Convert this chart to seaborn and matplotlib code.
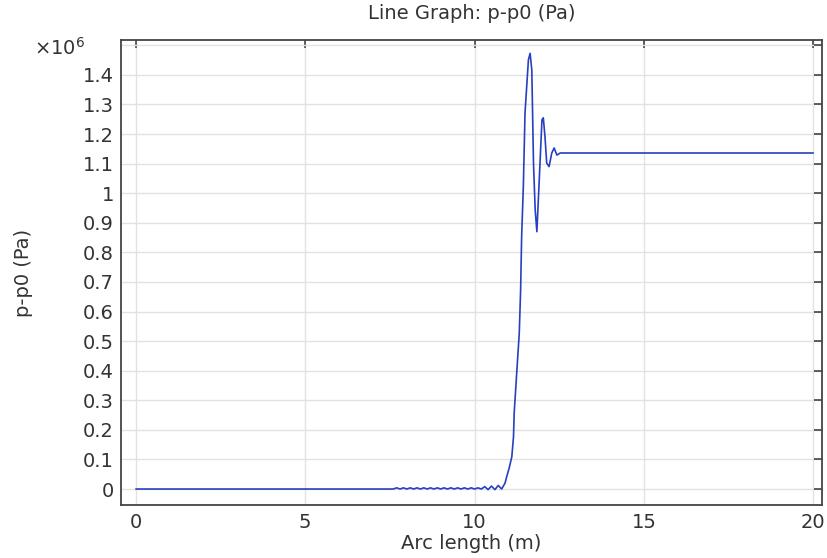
import numpy as np
import pandas as pd
import seaborn as sns
import matplotlib.pyplot as plt
from matplotlib.ticker import FuncFormatter, MultipleLocator

# arc length (m) and p-p0 in units of 1e6 Pa
arc_length = [0.0, 7.6, 7.7, 7.8, 7.9, 8.0, 8.1, 8.2, 8.3, 8.4, 8.5, 8.6, 8.7,
              8.8, 8.9, 9.0, 9.1, 9.2, 9.3, 9.4, 9.5, 9.6, 9.7, 9.8, 9.9,
              10.0, 10.1, 10.2, 10.3, 10.4, 10.5, 10.6, 10.7, 10.8, 10.9,
              10.95, 11.02, 11.1, 11.15, 11.17, 11.25, 11.32, 11.36, 11.39,
              11.44, 11.49, 11.59, 11.64, 11.69, 11.74, 11.79, 11.84, 11.91,
              11.99, 12.03, 12.08, 12.13, 12.2, 12.28, 12.35, 12.43, 12.53,
              20.0]
p_p0_e6 = [0.0, 0.0, 0.004, 0.0, 0.004, 0.0, 0.004, 0.0, 0.004, 0.0, 0.004,
           0.0, 0.004, 0.0, 0.004, 0.0, 0.004, 0.0, 0.004, 0.0, 0.004, 0.0,
           0.004, 0.0, 0.004, 0.0, 0.004, 0.0, 0.008, -0.002, 0.01, -0.002,
           0.012, 0.0, 0.02, 0.042, 0.07, 0.109, 0.177, 0.257, 0.402, 0.527,
           0.673, 0.853, 1.022, 1.272, 1.451, 1.473, 1.417, 1.102, 0.944,
           0.87, 1.045, 1.248, 1.255, 1.19, 1.102, 1.09, 1.136, 1.153, 1.129,
           1.136, 1.136]

df = pd.DataFrame({"arc": arc_length, "p": np.array(p_p0_e6) * 1e6})

sns.set_style("whitegrid")
plt.rcParams["font.family"] = ["DejaVu Sans"]
text_col = "#333333"


def fmt_y(v, pos):
    # no label on the top tick, the x10^6 multiplier sits there
    if v > 1.45e6:
        return ""
    if abs(v) < 1:
        return "0"
    return f"{v / 1e6:.1f}".rstrip("0").rstrip(".")


fig = plt.figure(figsize=(8.27, 5.58), dpi=100)
ax = fig.add_axes([0.1463, 0.095, 0.8477, 0.8333])

sns.lineplot(data=df, x="arc", y="p", ax=ax, color="#2740c0", linewidth=1.2)

ax.set_xlim(-0.44, 20.26)
ax.set_ylim(-0.054e6, 1.518e6)
ax.xaxis.set_major_locator(MultipleLocator(5))
ax.yaxis.set_major_locator(MultipleLocator(0.1e6))
ax.yaxis.set_major_formatter(FuncFormatter(fmt_y))

ax.grid(True, color="#e2e2e2", linewidth=1)
for s in ax.spines.values():
    s.set_color("#444444")
    s.set_linewidth(1.3)
ax.tick_params(direction="in", length=6, width=1.2, color="#444444",
               top=True, right=True, labelsize=14, labelcolor=text_col)
ax.tick_params(axis="y", pad=5)
ax.tick_params(axis="x", pad=6)

ax.set_xlabel("Arc length (m)", fontsize=14, color=text_col, labelpad=1)
ax.set_ylabel("p-p0 (Pa)", fontsize=14, color=text_col, labelpad=36)
ax.set_title("Line Graph: p-p0 (Pa)", fontsize=14, color=text_col, pad=15)
ax.text(-0.087, 0.983, r"$\times10^{6}$", transform=ax.transAxes, fontsize=14,
        color=text_col, ha="center", va="center")

fig.savefig("out.png", dpi=100)
